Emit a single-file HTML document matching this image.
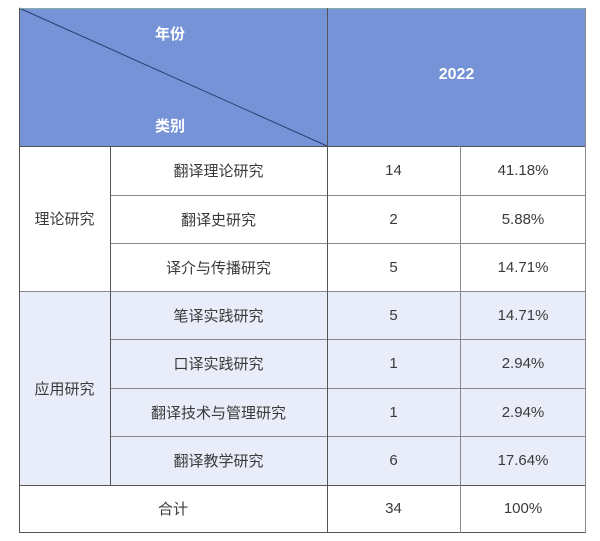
<!DOCTYPE html>
<html><head><meta charset="utf-8"><style>
body{margin:0;width:600px;height:541px;background:#fff;position:relative;overflow:hidden;font-family:"Liberation Sans","Noto Sans CJK SC",sans-serif;color:#3a3a3a;font-size:15px}
.c{position:absolute;display:flex;align-items:center;justify-content:center;box-sizing:border-box}
.l{position:absolute;background:#555}
</style></head><body>
<div class="c" style="left:19px;top:8px;width:567px;height:138px;background:#7593d6"></div>
<div class="c" style="left:19px;top:291px;width:567px;height:194px;background:#e9edf9"></div>
<svg style="position:absolute;left:0;top:0" width="600" height="541"><line x1="19" y1="8" x2="327" y2="146" stroke="#2c3e70" stroke-width="1"/></svg>
<div class="c" style="left:130px;top:22px;width:80px;height:22px;color:#fff;font-weight:bold">年份</div>
<div class="c" style="left:130px;top:114px;width:80px;height:22px;color:#fff;font-weight:bold">类别</div>
<div class="c" style="left:327px;top:60px;width:259px;height:30px;color:#fff;font-weight:bold;font-size:16px">2022</div>
<div class="l" style="left:19px;top:8px;width:567px;height:1px;background:#8aa"></div>
<div class="l" style="left:19px;top:146px;width:567px;height:1px"></div>
<div class="l" style="left:110px;top:195px;width:476px;height:1px;background:#888"></div>
<div class="l" style="left:110px;top:243px;width:476px;height:1px;background:#888"></div>
<div class="l" style="left:19px;top:291px;width:567px;height:1px;background:#888"></div>
<div class="l" style="left:110px;top:339px;width:476px;height:1px;background:#888"></div>
<div class="l" style="left:110px;top:388px;width:476px;height:1px;background:#888"></div>
<div class="l" style="left:110px;top:436px;width:476px;height:1px;background:#888"></div>
<div class="l" style="left:19px;top:485px;width:567px;height:1px"></div>
<div class="l" style="left:19px;top:532px;width:567px;height:1px"></div>
<div class="l" style="left:19px;top:8px;width:1px;height:525px"></div>
<div class="l" style="left:585px;top:8px;width:1px;height:525px;background:#888"></div>
<div class="l" style="left:327px;top:8px;width:1px;height:525px"></div>
<div class="l" style="left:110px;top:146px;width:1px;height:339px"></div>
<div class="l" style="left:460px;top:146px;width:1px;height:387px;background:#888"></div>
<div class="c" style="left:19px;top:146px;width:91px;height:145px">理论研究</div>
<div class="c" style="left:19px;top:291px;width:91px;height:194px">应用研究</div>
<div class="c" style="left:110px;top:146px;width:217px;height:49px">翻译理论研究</div>
<div class="c" style="left:110px;top:195px;width:217px;height:48px">翻译史研究</div>
<div class="c" style="left:110px;top:243px;width:217px;height:48px">译介与传播研究</div>
<div class="c" style="left:110px;top:291px;width:217px;height:48px">笔译实践研究</div>
<div class="c" style="left:110px;top:339px;width:217px;height:49px">口译实践研究</div>
<div class="c" style="left:110px;top:388px;width:217px;height:48px">翻译技术与管理研究</div>
<div class="c" style="left:110px;top:436px;width:217px;height:49px">翻译教学研究</div>
<div class="c" style="left:19px;top:485px;width:308px;height:47px">合计</div>
<div class="c" style="left:327px;top:146px;width:133px;height:49px">14</div>
<div class="c" style="left:327px;top:195px;width:133px;height:48px">2</div>
<div class="c" style="left:327px;top:243px;width:133px;height:48px">5</div>
<div class="c" style="left:327px;top:291px;width:133px;height:48px">5</div>
<div class="c" style="left:327px;top:339px;width:133px;height:49px">1</div>
<div class="c" style="left:327px;top:388px;width:133px;height:48px">1</div>
<div class="c" style="left:327px;top:436px;width:133px;height:49px">6</div>
<div class="c" style="left:327px;top:485px;width:133px;height:47px">34</div>
<div class="c" style="left:460px;top:146px;width:126px;height:49px">41.18%</div>
<div class="c" style="left:460px;top:195px;width:126px;height:48px">5.88%</div>
<div class="c" style="left:460px;top:243px;width:126px;height:48px">14.71%</div>
<div class="c" style="left:460px;top:291px;width:126px;height:48px">14.71%</div>
<div class="c" style="left:460px;top:339px;width:126px;height:49px">2.94%</div>
<div class="c" style="left:460px;top:388px;width:126px;height:48px">2.94%</div>
<div class="c" style="left:460px;top:436px;width:126px;height:49px">17.64%</div>
<div class="c" style="left:460px;top:485px;width:126px;height:47px">100%</div>
</body></html>
